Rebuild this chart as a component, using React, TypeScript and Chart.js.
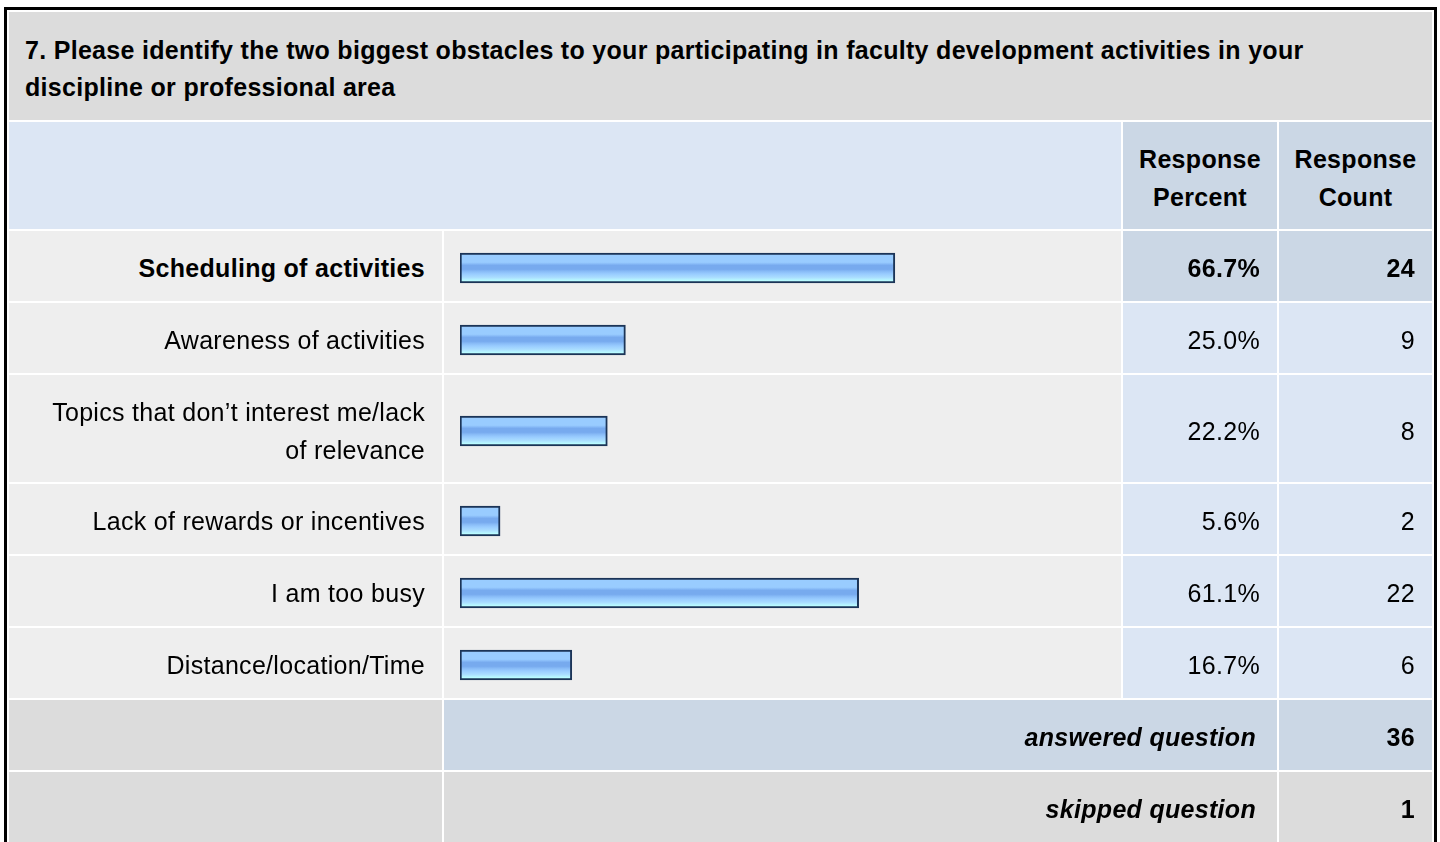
import React, { useEffect, useRef } from "react";
import { Chart, registerables } from "chart.js";

Chart.register(...registerables);

const titleText =
  "7. Please identify the two biggest obstacles to your participating in faculty development activities in your discipline or professional area";
const headerPercent = "Response Percent";
const headerCount = "Response Count";
const categories = [
  "Scheduling of activities",
  "Awareness of activities",
  "Topics that don\u2019t interest me/lack of relevance",
  "Lack of rewards or incentives",
  "I am too busy",
  "Distance/location/Time",
];
const percents = [66.7, 25.0, 22.2, 5.6, 61.1, 16.7];
const counts = [24, 9, 8, 2, 22, 6];
const highlighted = [true, false, false, false, false, false];
const answeredLabel = "answered question";
const answeredCount = 36;
const skippedLabel = "skipped question";
const skippedCount = 1;

const AXIS_MIN = -0.6;
const AXIS_MAX = 100;

const FONT = '"Liberation Sans", Arial, Helvetica, sans-serif';
const C_TITLE = "#dcdcdc";
const C_HEAD_LIGHT = "#dce6f4";
const C_HEAD_DARK = "#cbd7e5";
const C_ROW = "#eeeeee";
const C_VAL = "#dce6f4";

function BarChart({ label, value }: { label: string; value: number }) {
  const ref = useRef<HTMLCanvasElement | null>(null);
  useEffect(() => {
    if (!ref.current) return;
    const chart = new Chart(ref.current, {
      type: "bar",
      data: {
        labels: [label],
        datasets: [
          {
            data: [value],
            base: AXIS_MIN,
            barThickness: 30,
            borderWidth: 2,
            borderColor: "#1b3457",
            borderSkipped: false,
            backgroundColor: (c: any) => {
              const ch = c.chart;
              const area = ch.chartArea;
              const ys = ch.scales && ch.scales.y;
              if (!area || !ys) return "#88bbf7";
              const cy = ys.getPixelForValue(c.dataIndex || 0);
              if (!isFinite(cy)) return "#88bbf7";
              const g = ch.ctx.createLinearGradient(0, cy - 13, 0, cy + 13);
              g.addColorStop(0, "#99ccff");
              g.addColorStop(0.28, "#99ccff");
              g.addColorStop(0.34, "#88bbf7");
              g.addColorStop(0.4, "#77aaee");
              g.addColorStop(0.55, "#77aaee");
              g.addColorStop(0.63, "#88bbf7");
              g.addColorStop(0.73, "#99ccff");
              g.addColorStop(0.86, "#aaddff");
              g.addColorStop(1, "#bbffff");
              return g;
            },
          } as any,
        ],
      },
      options: {
        indexAxis: "y",
        responsive: false,
        animation: false,
        layout: { padding: { top: 4, bottom: 0, left: 0, right: 0 } },
        plugins: {
          legend: { display: false },
          tooltip: { enabled: false },
        },
        scales: {
          x: {
            type: "linear",
            min: AXIS_MIN,
            max: AXIS_MAX,
            bounds: "data",
            display: false,
          },
          y: { display: false },
        },
      } as any,
    });
    return () => chart.destroy();
  }, [label, value]);
  return (
    <canvas
      ref={ref}
      width={650}
      height={40}
      style={{ display: "block", width: 650, height: 40 }}
    />
  );
}

export default function App() {
  const cell: React.CSSProperties = {
    padding: "6px 17px 0 17px",
    verticalAlign: "middle",
    color: "#000",
  };
  return (
    <table
      style={{
        position: "absolute",
        left: 4,
        top: 7,
        width: 1433,
        tableLayout: "fixed",
        borderCollapse: "separate",
        borderSpacing: 2,
        border: "3px solid #000",
        background: "#fff",
        fontFamily: FONT,
        fontSize: 25,
        lineHeight: "37.5px",
        letterSpacing: "0.3px",
      }}
    >
      <colgroup>
        <col style={{ width: 433 }} />
        <col style={{ width: 677 }} />
        <col style={{ width: 154 }} />
        <col style={{ width: 153 }} />
      </colgroup>
      <tbody>
        <tr style={{ height: 108 }}>
          <td
            colSpan={4}
            style={{
              ...cell,
              background: C_TITLE,
              fontWeight: "bold",
              padding: "6px 60px 0 16px",
              textAlign: "left",
            }}
          >
            {titleText}
          </td>
        </tr>
        <tr style={{ height: 107 }}>
          <td colSpan={2} style={{ ...cell, background: C_HEAD_LIGHT }}></td>
          <td
            style={{
              ...cell,
              padding: "6px 4px 0 4px",
              background: C_HEAD_DARK,
              fontWeight: "bold",
              textAlign: "center",
            }}
          >
            {headerPercent}
          </td>
          <td
            style={{
              ...cell,
              padding: "6px 4px 0 4px",
              background: C_HEAD_DARK,
              fontWeight: "bold",
              textAlign: "center",
            }}
          >
            {headerCount}
          </td>
        </tr>
        {categories.map((cat, i) => {
          const hi = highlighted[i];
          const tall = cat.length > 35;
          return (
            <tr key={cat} style={{ height: tall ? 107 : 70 }}>
              <td
                style={{
                  ...cell,
                  padding: "6px 17px 0 30px",
                  background: C_ROW,
                  textAlign: "right",
                  fontWeight: hi ? "bold" : "normal",
                }}
              >
                {cat}
              </td>
              <td style={{ ...cell, padding: "0 0 0 16px", background: C_ROW }}>
                <BarChart label={cat} value={percents[i]} />
              </td>
              <td
                style={{
                  ...cell,
                  background: hi ? C_HEAD_DARK : C_VAL,
                  textAlign: "right",
                  fontWeight: hi ? "bold" : "normal",
                }}
              >
                {percents[i].toFixed(1) + "%"}
              </td>
              <td
                style={{
                  ...cell,
                  background: hi ? C_HEAD_DARK : C_VAL,
                  textAlign: "right",
                  fontWeight: hi ? "bold" : "normal",
                }}
              >
                {counts[i]}
              </td>
            </tr>
          );
        })}
        <tr style={{ height: 70 }}>
          <td style={{ ...cell, background: C_TITLE }}></td>
          <td
            colSpan={2}
            style={{
              ...cell,
              padding: "6px 21px 0 17px",
              background: C_HEAD_DARK,
              textAlign: "right",
              fontWeight: "bold",
              fontStyle: "italic",
            }}
          >
            {answeredLabel}
          </td>
          <td
            style={{
              ...cell,
              background: C_HEAD_DARK,
              textAlign: "right",
              fontWeight: "bold",
            }}
          >
            {answeredCount}
          </td>
        </tr>
        <tr style={{ height: 70 }}>
          <td style={{ ...cell, background: C_TITLE }}></td>
          <td
            colSpan={2}
            style={{
              ...cell,
              padding: "6px 21px 0 17px",
              background: C_TITLE,
              textAlign: "right",
              fontWeight: "bold",
              fontStyle: "italic",
            }}
          >
            {skippedLabel}
          </td>
          <td
            style={{
              ...cell,
              background: C_TITLE,
              textAlign: "right",
              fontWeight: "bold",
            }}
          >
            {skippedCount}
          </td>
        </tr>
      </tbody>
    </table>
  );
}
